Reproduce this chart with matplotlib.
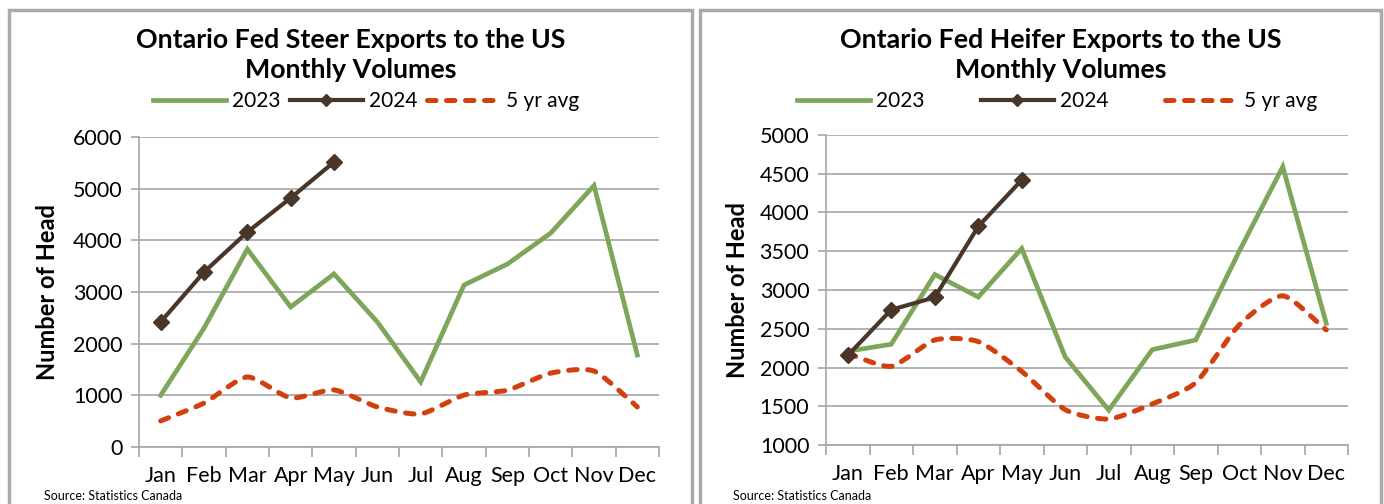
import numpy as np
import matplotlib
matplotlib.use("Agg")
import matplotlib.pyplot as plt
from matplotlib.lines import Line2D
from matplotlib.patches import Rectangle

plt.rcParams['font.family'] = ['Lato', 'DejaVu Sans']

months = ["Jan", "Feb", "Mar", "Apr", "May", "Jun", "Jul", "Aug", "Sep", "Oct", "Nov", "Dec"]

steer_2023 = [1000, 2300, 3830, 2710, 3350, 2420, 1260, 3135, 3540, 4140, 5060, 1780]
steer_2024 = [2420, 3385, 4160, 4820, 5515]
steer_5yr = [505, 850, 1355, 950, 1105, 775, 640, 1005, 1100, 1430, 1470, 775]

heifer_2023 = [2210, 2300, 3200, 2910, 3535, 2135, 1450, 2230, 2355, 3500, 4590, 2570]
heifer_2024 = [2155, 2745, 2905, 3820, 4420]
heifer_5yr = [2180, 2015, 2355, 2335, 1950, 1455, 1335, 1530, 1805, 2550, 2925, 2485]

titles = ["Ontario Fed Steer Exports to the US\nMonthly Volumes",
          "Ontario Fed Heifer Exports to the US\nMonthly Volumes"]
source = "Source: Statistics Canada"
ylabel = "Number of Head"
legend_labels = ["2023", "2024", "5 yr avg"]

C23 = "#7ea65a"
C24 = "#4a3529"
C5 = "#d2400e"
GRID = "#a6a6a6"

W, H = 1384, 504
fig = plt.figure(figsize=(W / 100, H / 100), dpi=100)


def smooth(xs, ys, n=24, k=0.65):
    xs = np.asarray(xs, float)
    ys = np.asarray(ys, float)
    px = np.concatenate([[2 * xs[0] - xs[1]], xs, [2 * xs[-1] - xs[-2]]])
    py = np.concatenate([[2 * ys[0] - ys[1]], ys, [2 * ys[-1] - ys[-2]]])
    ox, oy = [], []
    t = np.linspace(0, 1, n, endpoint=False)
    h00 = 2 * t ** 3 - 3 * t ** 2 + 1
    h10 = t ** 3 - 2 * t ** 2 + t
    h01 = -2 * t ** 3 + 3 * t ** 2
    h11 = t ** 3 - t ** 2
    for i in range(1, len(px) - 2):
        for P, out in ((px, ox), (py, oy)):
            p0, p1, p2, p3 = P[i - 1], P[i], P[i + 1], P[i + 2]
            m1 = k * (p2 - p0) / 2
            m2 = k * (p3 - p1) / 2
            out.extend(h00 * p1 + h10 * m1 + h01 * p2 + h11 * m2)
    ox.append(xs[-1]); oy.append(ys[-1])
    return np.array(ox), np.array(oy)


def px_axes(x0, y0, x1, y1):
    return fig.add_axes([x0 / W, (H - y1) / H, (x1 - x0) / W, (y1 - y0) / H])


# panel borders
for (x0, x1) in ((9, 692), (700, 1381)):
    fig.patches.append(Rectangle((x0 / W, -0.05), (x1 - x0) / W, (H - 10) / H + 0.05,
                                 transform=fig.transFigure, fill=False,
                                 edgecolor="#a9a9a9", linewidth=2.5, zorder=0))

configs = [
    dict(box=(139, 137, 659, 447), ylim=(0, 6000), yticks=np.arange(0, 6001, 1000),
         d23=steer_2023, d24=steer_2024, d5=steer_5yr, title_x=351, src_x=44,
         ylab_x=48, leg_x=366, colsp=0.45),
    dict(box=(826, 135, 1348, 445), ylim=(1000, 5000), yticks=np.arange(1000, 5001, 500),
         d23=heifer_2023, d24=heifer_2024, d5=heifer_5yr, title_x=1061, src_x=733,
         ylab_x=737, leg_x=1057, colsp=2.7),
]

DASH = (1.7, 2.1)

for i, cfg in enumerate(configs):
    x0, y0, x1, y1 = cfg["box"]
    ax = px_axes(x0, y0, x1, y1)
    x = np.arange(len(months))
    ax.plot(x, cfg["d23"], color=C23, lw=3.4, solid_joinstyle="miter", zorder=3)
    sx, sy = smooth(x, cfg["d5"])
    ax.plot(sx, sy, color=C5, lw=3.6, dashes=DASH, dash_capstyle="round", zorder=2)
    x24 = np.arange(len(cfg["d24"]))
    ax.plot(x24, cfg["d24"], color=C24, lw=3.0, marker="D", markersize=8.5, zorder=4)

    ax.set_xlim(-0.5, 11.5)
    ax.set_ylim(*cfg["ylim"])
    ax.set_yticks(cfg["yticks"])
    ax.set_yticklabels([str(v) for v in cfg["yticks"]], fontsize=15.5)
    ax.set_xticks(x)
    ax.set_xticklabels(months, fontsize=15.5)
    ax.set_xticks(np.arange(-0.5, 12, 1), minor=True)
    ax.tick_params(axis="x", which="major", length=0, pad=14)
    ax.tick_params(axis="x", which="minor", length=7, color=GRID, width=1.2, direction="out")
    ax.tick_params(axis="y", length=6, color=GRID, width=1.2, pad=6)
    ax.grid(axis="y", color=GRID, lw=1.2)
    ax.set_axisbelow(True)
    for s in ("top", "right"):
        ax.spines[s].set_visible(False)
    for s in ("left", "bottom"):
        ax.spines[s].set_color(GRID)
        ax.spines[s].set_linewidth(1.2)

    fig.text(cfg["title_x"] / W, 1 - 55 / H, titles[i], ha="center", va="center",
             fontsize=19.3, fontweight="bold", linespacing=1.25)
    fig.text(cfg["ylab_x"] / W, 1 - ((y0 + y1) / 2) / H, ylabel, rotation=90,
             ha="center", va="center", fontsize=17, fontweight="bold")
    fig.text(cfg["src_x"] / W, 1 - 496 / H, source, ha="left", va="center", fontsize=9)

    handles = [Line2D([], [], color=C23, lw=3.4),
               Line2D([], [], color=C24, lw=3.0, marker="D", markersize=6.5),
               Line2D([], [], color=C5, lw=3.6, dashes=DASH, dash_capstyle="round")]
    fig.legend(handles, legend_labels, loc="center", bbox_to_anchor=(cfg["leg_x"] / W, 1 - 101 / H),
               ncol=3, frameon=False, fontsize=15, handlelength=3.5, handletextpad=0.3,
               columnspacing=cfg["colsp"], borderpad=0, borderaxespad=0)

fig.savefig("out.png", dpi=100)
